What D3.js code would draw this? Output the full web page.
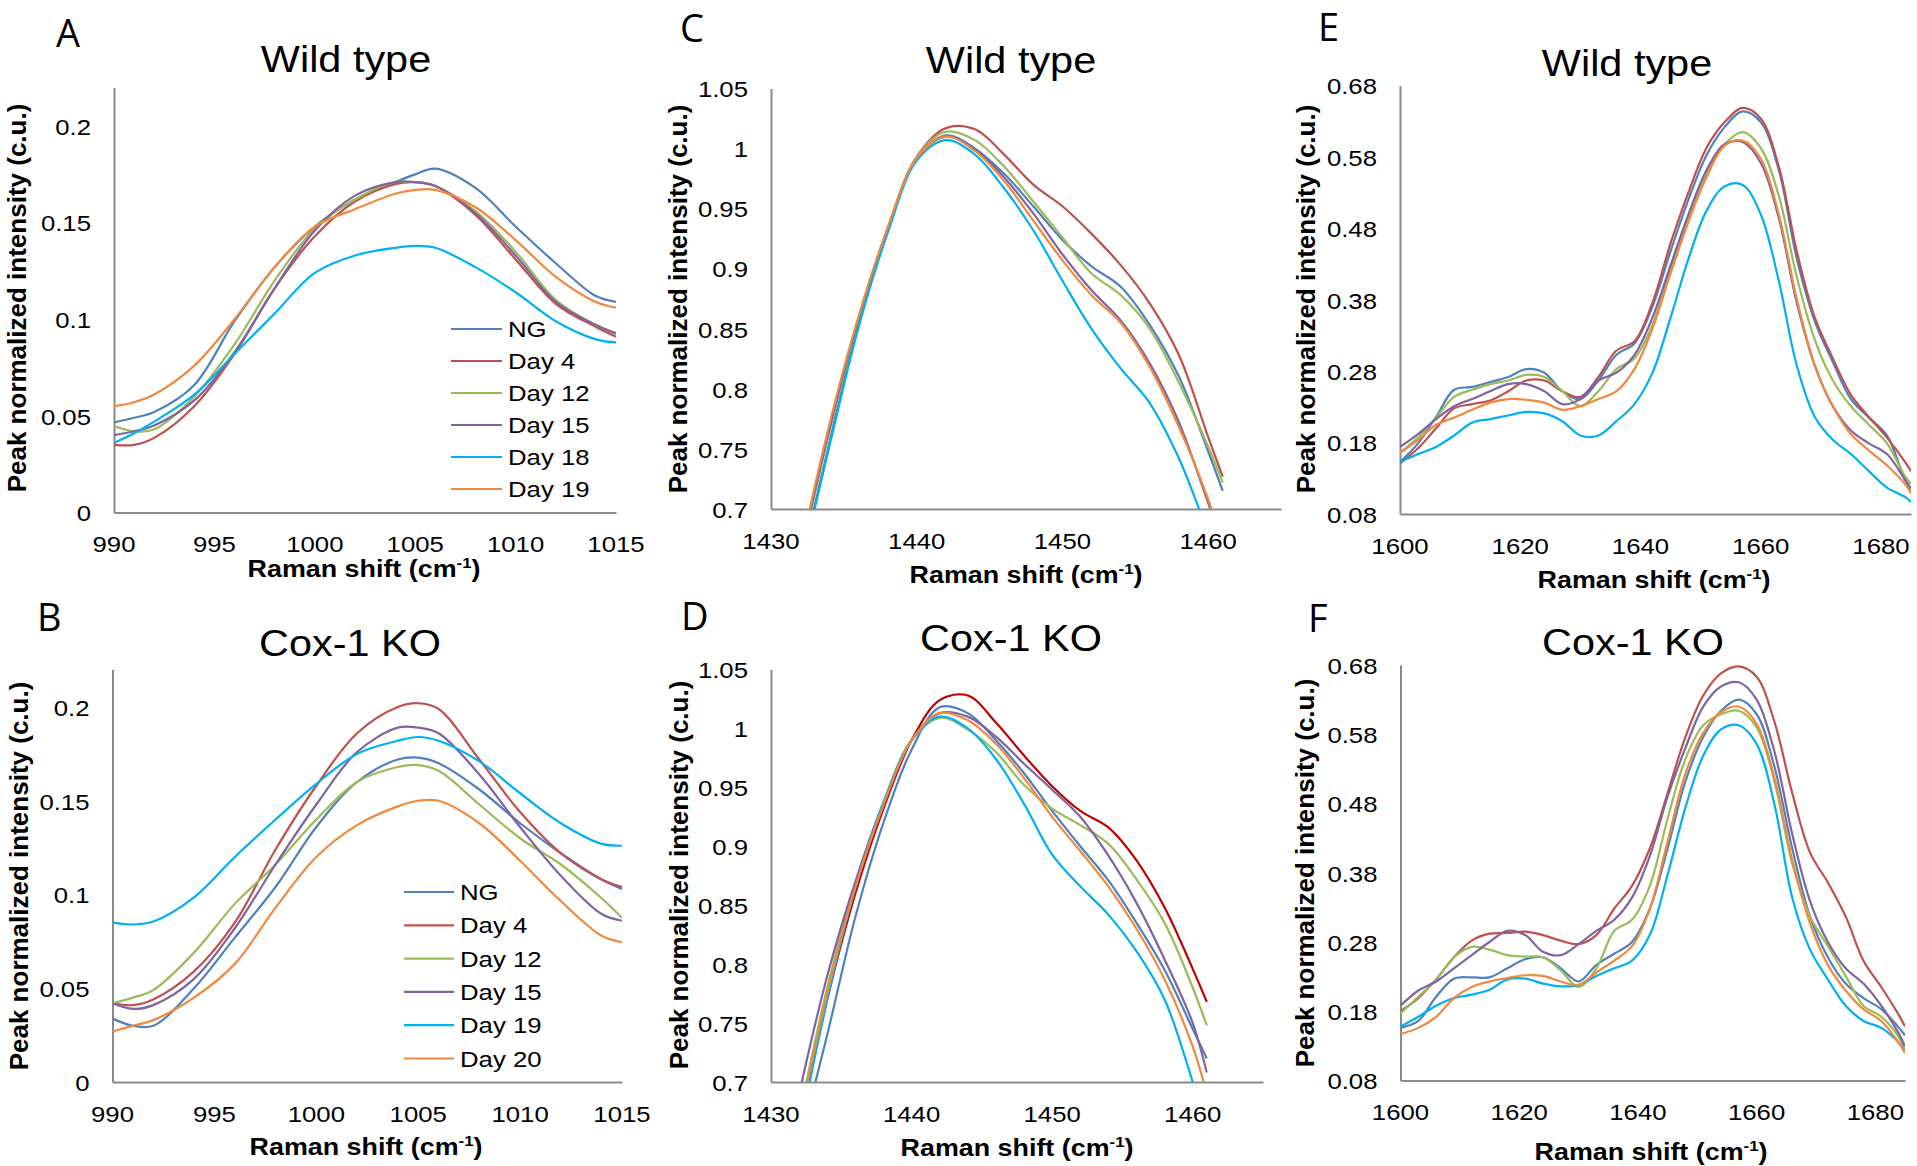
<!DOCTYPE html>
<html><head><meta charset="utf-8">
<script src="https://cdn.jsdelivr.net/npm/d3@7"></script>
<style>
html,body{margin:0;padding:0;background:#fff;}
svg{display:block;font-family:"Liberation Sans",Arial,sans-serif;}
</style></head><body>
<svg id="chart" width="1917" height="1166"></svg>
<script>
// ---------- DATA ----------
const namesWT = ["NG","Day 4","Day 12","Day 15","Day 18","Day 19"];
const namesKO = ["NG","Day 4","Day 12","Day 15","Day 19","Day 20"];

// Panels A/B: 990-1015 cm-1
const x1000 = [990,991,992,994,996,998,1000,1002,1004,1005,1006,1008,1010,1012,1014,1015];
const A_NG    = [0.0466,0.049,0.052,0.066,0.099,0.127,0.148,0.162,0.171,0.175,0.178,0.168,0.148,0.129,0.112,0.109];
const A_Day4  = [0.035,0.035,0.0386,0.055,0.082,0.116,0.143,0.161,0.170,0.171,0.169,0.154,0.131,0.108,0.096,0.091];
const A_Day12 = [0.0447,0.042,0.043,0.060,0.087,0.120,0.147,0.162,0.171,0.171,0.169,0.156,0.135,0.110,0.097,0.093];
const A_Day15 = [0.040,0.042,0.045,0.058,0.083,0.116,0.146,0.164,0.171,0.171,0.169,0.155,0.133,0.109,0.097,0.0925];
const A_Day18 = [0.036,0.041,0.047,0.061,0.082,0.103,0.124,0.133,0.137,0.138,0.137,0.127,0.114,0.099,0.0896,0.088];
const A_Day19 = [0.055,0.057,0.061,0.076,0.100,0.127,0.148,0.157,0.165,0.167,0.167,0.158,0.141,0.122,0.109,0.106];

const B_NG    = [0.0338,0.030,0.030,0.050,0.077,0.104,0.136,0.160,0.172,0.173,0.170,0.156,0.138,0.122,0.108,0.103];
const B_Day4  = [0.042,0.041,0.044,0.059,0.085,0.124,0.158,0.186,0.200,0.202,0.199,0.172,0.144,0.122,0.108,0.104];
const B_Day12 = [0.042,0.045,0.049,0.069,0.095,0.116,0.140,0.160,0.168,0.169,0.166,0.148,0.130,0.116,0.098,0.0876];
const B_Day15 = [0.042,0.039,0.041,0.055,0.082,0.116,0.148,0.176,0.189,0.189,0.186,0.164,0.136,0.110,0.0896,0.086];
const B_Day19 = [0.085,0.084,0.0856,0.0985,0.120,0.140,0.159,0.175,0.182,0.184,0.182,0.171,0.154,0.138,0.127,0.126];
const B_Day20 = [0.0269,0.030,0.033,0.045,0.063,0.093,0.120,0.137,0.147,0.150,0.150,0.138,0.118,0.0965,0.078,0.0746];

// Panels C/D: 1430-1465 cm-1
const x1450 = [1432,1434,1436,1438,1440,1442,1444,1446,1448,1450,1452,1454,1456,1458,1460,1461];
const C_NG    = [0.650,0.755,0.853,0.930,0.991,1.011,1.000,0.979,0.952,0.924,0.902,0.885,0.853,0.810,0.748,0.715];
const C_Day4  = [0.660,0.766,0.858,0.933,0.993,1.017,1.016,0.995,0.970,0.952,0.929,0.903,0.871,0.828,0.760,0.727];
const C_Day12 = [0.658,0.764,0.857,0.933,0.993,1.014,1.007,0.985,0.956,0.926,0.896,0.878,0.850,0.805,0.752,0.722];
const C_Day15 = [0.660,0.766,0.858,0.933,0.992,1.010,0.999,0.976,0.946,0.912,0.882,0.857,0.821,0.772,0.705,0.670];
const C_Day18 = [0.648,0.752,0.851,0.930,0.990,1.007,0.995,0.967,0.932,0.890,0.850,0.817,0.788,0.742,0.680,0.650];
const C_Day19 = [0.664,0.770,0.860,0.934,0.992,1.010,0.998,0.973,0.940,0.907,0.878,0.855,0.818,0.768,0.708,0.670];

const D_NG    = [0.645,0.740,0.840,0.920,0.982,1.018,1.013,0.990,0.962,0.930,0.900,0.871,0.835,0.795,0.745,0.720];
const D_Day4  = [0.660,0.770,0.860,0.932,0.990,1.024,1.028,1.005,0.977,0.951,0.930,0.916,0.888,0.848,0.796,0.768];
const D_Day12 = [0.670,0.780,0.868,0.937,0.990,1.009,0.999,0.980,0.952,0.932,0.918,0.902,0.872,0.835,0.780,0.748];
const D_Day15 = [0.690,0.790,0.870,0.937,0.990,1.013,1.010,0.993,0.970,0.948,0.925,0.892,0.852,0.804,0.750,0.708];
const D_Day19 = [0.655,0.770,0.865,0.937,0.990,1.010,1.000,0.974,0.936,0.893,0.866,0.842,0.811,0.770,0.700,0.660];
const D_Day20 = [0.665,0.775,0.865,0.935,0.990,1.013,1.007,0.987,0.958,0.925,0.896,0.866,0.830,0.787,0.730,0.690];

// Panels E/F: 1600-1685 cm-1
const x1650 = [1600,1603,1606,1609,1612,1615,1618,1621,1624,1627,1630,1633,1636,1639,1642,1645,1648,1651,1654,1657,1660,1663,1666,1669,1672,1675,1678,1681,1684,1685];
const E_NG    = [0.153,0.179,0.216,0.254,0.258,0.265,0.272,0.283,0.278,0.252,0.241,0.267,0.303,0.319,0.371,0.448,0.521,0.583,0.622,0.644,0.629,0.562,0.438,0.350,0.293,0.241,0.215,0.190,0.128,0.115];
const E_Day4  = [0.151,0.172,0.200,0.228,0.234,0.239,0.252,0.267,0.267,0.252,0.244,0.272,0.309,0.322,0.376,0.459,0.531,0.593,0.629,0.649,0.634,0.567,0.448,0.355,0.298,0.247,0.216,0.187,0.153,0.140];
const E_Day12 = [0.166,0.187,0.215,0.244,0.254,0.262,0.267,0.275,0.272,0.252,0.231,0.252,0.283,0.298,0.345,0.422,0.495,0.557,0.598,0.615,0.593,0.526,0.412,0.324,0.267,0.231,0.205,0.179,0.133,0.122];
const E_Day15 = [0.174,0.192,0.213,0.231,0.241,0.252,0.262,0.262,0.252,0.234,0.241,0.267,0.278,0.303,0.355,0.428,0.500,0.562,0.598,0.601,0.572,0.495,0.376,0.288,0.231,0.197,0.179,0.164,0.128,0.115];
const E_Day18 = [0.153,0.164,0.174,0.190,0.208,0.213,0.218,0.223,0.221,0.210,0.190,0.190,0.210,0.234,0.278,0.355,0.438,0.505,0.539,0.541,0.500,0.407,0.288,0.216,0.184,0.164,0.140,0.117,0.104,0.097];
const E_Day19 = [0.166,0.184,0.205,0.215,0.226,0.236,0.241,0.240,0.236,0.226,0.231,0.241,0.252,0.283,0.340,0.417,0.490,0.552,0.596,0.603,0.578,0.500,0.381,0.288,0.231,0.192,0.169,0.148,0.122,0.109];

const F_NG    = [0.156,0.166,0.201,0.227,0.229,0.229,0.242,0.255,0.258,0.242,0.223,0.247,0.263,0.280,0.328,0.415,0.512,0.576,0.614,0.630,0.609,0.533,0.415,0.317,0.258,0.220,0.199,0.183,0.156,0.145];
const F_Day4  = [0.180,0.199,0.226,0.258,0.282,0.292,0.293,0.295,0.290,0.282,0.277,0.290,0.328,0.361,0.415,0.495,0.576,0.636,0.668,0.678,0.663,0.598,0.495,0.409,0.366,0.317,0.253,0.215,0.174,0.158];
const F_Day12 = [0.177,0.201,0.226,0.258,0.273,0.269,0.261,0.259,0.258,0.239,0.215,0.242,0.296,0.312,0.361,0.458,0.544,0.593,0.609,0.614,0.590,0.512,0.393,0.317,0.274,0.231,0.188,0.172,0.142,0.122];
const F_Day15 = [0.188,0.210,0.223,0.242,0.261,0.280,0.296,0.290,0.266,0.261,0.277,0.296,0.312,0.344,0.404,0.490,0.560,0.620,0.649,0.655,0.630,0.555,0.436,0.339,0.280,0.242,0.220,0.188,0.147,0.129];
const F_Day19 = [0.158,0.172,0.188,0.199,0.204,0.211,0.226,0.227,0.220,0.216,0.218,0.231,0.242,0.253,0.290,0.377,0.474,0.549,0.587,0.593,0.566,0.479,0.344,0.269,0.226,0.188,0.166,0.156,0.134,0.120];
const F_Day20 = [0.147,0.156,0.172,0.199,0.215,0.223,0.228,0.232,0.231,0.223,0.218,0.236,0.253,0.274,0.328,0.425,0.523,0.582,0.612,0.620,0.595,0.517,0.398,0.307,0.247,0.210,0.183,0.166,0.134,0.120];

// Ticks
const yTicks1000 = [0,0.05,0.1,0.15,0.2];
const yLabels1000 = ["0","0.05","0.1","0.15","0.2"];
const xTicks1000 = [990,995,1000,1005,1010,1015];
const yTicks1450 = [0.7,0.75,0.8,0.85,0.9,0.95,1,1.05];
const yLabels1450 = ["0.7","0.75","0.8","0.85","0.9","0.95","1","1.05"];
const xTicks1450 = [1430,1440,1450,1460];
const yTicks1650 = [0.08,0.18,0.28,0.38,0.48,0.58,0.68];
const yLabels1650 = ["0.08","0.18","0.28","0.38","0.48","0.58","0.68"];
const xTicks1650 = [1600,1620,1640,1660,1680];

const colorsBase = ["#4F81BD","#C0504D","#9BBB59","#8064A2","#00B0F0","#F0883E"];
const colorsD    = ["#4F81BD","#C00000","#9BBB59","#8064A2","#00B0F0","#F0883E"];

// ---------- LAYOUT ----------
const STRETCH = 1.12;
const panels = [
  {id:"A", title:"Wild type", xs:x1000, series:[A_NG,A_Day4,A_Day12,A_Day15,A_Day18,A_Day19], names:namesWT, colors:colorsBase,
   xDom:[990,1015], yDom:[0,0.22], xr:[114,616], yr:[512.4,87.5], yT:yTicks1000, yL:yLabels1000, xT:xTicks1000,
   letter:[56,47], titleP:[346,72], xTitle:[364,577], yTitle:[17,298], legend:{x1:451,x2:502,tx:508,y0:329,dy:32}},
  {id:"B", title:"Cox-1 KO", xs:x1000, series:[B_NG,B_Day4,B_Day12,B_Day15,B_Day19,B_Day20], names:namesKO, colors:colorsBase,
   xDom:[990,1015], yDom:[0,0.22], xr:[112.5,622], yr:[1082,669.5], yT:yTicks1000, yL:yLabels1000, xT:xTicks1000,
   letter:[37,631], titleP:[350,656], xTitle:[366,1155], yTitle:[19,876], legend:{x1:404,x2:454,tx:460,y0:892,dy:33.3}},
  {id:"C", title:"Wild type", xs:x1450, series:[C_NG,C_Day4,C_Day12,C_Day15,C_Day18,C_Day19], names:namesWT, colors:colorsBase,
   xDom:[1430,1465], yDom:[0.7,1.05], xr:[771,1281], yr:[509,88.5], yT:yTicks1450, yL:yLabels1450, xT:xTicks1450,
   letter:[680,42], titleP:[1011,73], xTitle:[1026,583], yTitle:[678,299]},
  {id:"D", title:"Cox-1 KO", xs:x1450, series:[D_NG,D_Day4,D_Day12,D_Day15,D_Day19,D_Day20], names:namesKO, colors:colorsD,
   xDom:[1430,1465], yDom:[0.7,1.05], xr:[771,1263], yr:[1082,669.5], yT:yTicks1450, yL:yLabels1450, xT:xTicks1450,
   letter:[681,630], titleP:[1011,651], xTitle:[1017,1156], yTitle:[679,875]},
  {id:"E", title:"Wild type", xs:x1650, series:[E_NG,E_Day4,E_Day12,E_Day15,E_Day18,E_Day19], names:namesWT, colors:colorsBase,
   xDom:[1600,1685], yDom:[0.08,0.68], xr:[1400,1911], yr:[514,85.7], yT:yTicks1650, yL:yLabels1650, xT:xTicks1650,
   letter:[1318,41], titleP:[1627,76], xTitle:[1654,588], yTitle:[1306,299]},
  {id:"F", title:"Cox-1 KO", xs:x1650, series:[F_NG,F_Day4,F_Day12,F_Day15,F_Day19,F_Day20], names:namesKO, colors:colorsBase,
   xDom:[1600,1685], yDom:[0.08,0.68], xr:[1400.5,1905], yr:[1080.5,665], yT:yTicks1650, yL:yLabels1650, xT:xTicks1650,
   letter:[1308,632], titleP:[1633,655], xTitle:[1651,1160], yTitle:[1305,873]}
];

const svg = d3.select("#chart");
const AXIS = "#898989";

function stext(g, x, y, str, size, anchor, weight){
  return g.append("text")
    .attr("transform", `translate(${x},${y}) scale(${STRETCH},1)`)
    .attr("text-anchor", anchor || "start")
    .attr("font-size", size)
    .attr("font-weight", weight || "normal")
    .attr("fill", "#000")
    .text(str);
}

panels.forEach((p, pi) => {
  const g = svg.append("g");
  const x = d3.scaleLinear().domain(p.xDom).range(p.xr);
  const y = d3.scaleLinear().domain(p.yDom).range(p.yr);

  const clipId = "clip" + p.id;
  svg.append("clipPath").attr("id", clipId).append("rect")
    .attr("x", p.xr[0]).attr("y", p.yr[1]-2)
    .attr("width", p.xr[1]-p.xr[0]).attr("height", p.yr[0]-p.yr[1]+2);

  // axes
  const ya = d3.axisLeft(y).tickValues(p.yT).tickFormat((d,i)=>p.yL[i]).tickSize(0).tickSizeOuter(0);
  const gy = g.append("g").attr("transform", `translate(${p.xr[0]},0)`).call(ya);
  gy.select(".domain").attr("stroke", AXIS).attr("stroke-width", 2);
  gy.selectAll("text").attr("x", -23/STRETCH).attr("dy", "0.36em")
    .attr("transform", `scale(${STRETCH},1)`)
    .attr("font-size", 23).attr("font-family", "Liberation Sans, Arial, sans-serif").attr("fill", "#000");

  const xa = d3.axisBottom(x).tickValues(p.xT).tickFormat(d3.format("d")).tickSize(0).tickSizeOuter(0);
  const gx = g.append("g").attr("transform", `translate(0,${p.yr[0]})`).call(xa);
  gx.select(".domain").attr("stroke", AXIS).attr("stroke-width", 2);
  gx.selectAll("text").attr("y", 40).attr("dy", 0)
    .attr("transform", `scale(${STRETCH},1)`)
    .attr("font-size", 23).attr("font-family", "Liberation Sans, Arial, sans-serif").attr("fill", "#000");
  gx.selectAll(".tick").each(function(d){
    d3.select(this).attr("transform", `translate(${x(d)},0)`);
  });

  // lines
  const line = d3.line().x(d=>x(d[0])).y(d=>y(d[1])).curve(d3.curveCatmullRom.alpha(0.5));
  const lg = g.append("g").attr("clip-path", `url(#${clipId})`);
  p.series.forEach((s, si) => {
    const pts = p.xs.map((xv, k) => [xv, s[k]]);
    lg.append("path").attr("d", line(pts)).attr("fill", "none")
      .attr("stroke", p.colors[si]).attr("stroke-width", 2.2)
      .attr("stroke-linejoin", "round");
  });

  // texts
  g.append("text").attr("x", p.letter[0]).attr("y", p.letter[1])
    .attr("font-family", "'Open Sans', 'Liberation Sans', sans-serif")
    .attr("font-size", 38).attr("fill", "#000").text(p.id);
  stext(g, p.titleP[0], p.titleP[1], p.title, 37, "middle");
  const xt = g.append("text")
    .attr("transform", `translate(${p.xTitle[0]},${p.xTitle[1]}) scale(${STRETCH},1)`)
    .attr("text-anchor", "middle").attr("font-size", 24).attr("font-weight", "bold").attr("fill", "#000");
  xt.append("tspan").text("Raman shift (cm");
  xt.append("tspan").attr("font-size", 15).attr("dy", -9).text("-1");
  xt.append("tspan").attr("dy", 9).text(")");

  g.append("text")
    .attr("transform", `translate(${p.yTitle[0]},${p.yTitle[1]}) rotate(-90)`)
    .attr("text-anchor", "middle").attr("dominant-baseline", "central")
    .attr("font-size", 26).attr("font-weight", "bold").attr("fill", "#000")
    .text("Peak normalized intensity (c.u.)");

  // legend
  if (p.legend) {
    const L = p.legend;
    p.names.forEach((nm, i) => {
      const yy = L.y0 + i*L.dy;
      g.append("line").attr("x1", L.x1).attr("x2", L.x2).attr("y1", yy).attr("y2", yy)
        .attr("stroke", p.colors[i]).attr("stroke-width", 2.2);
      stext(g, L.tx, yy + 8, nm, 23, "start");
    });
  }
});
</script>
</body></html>
